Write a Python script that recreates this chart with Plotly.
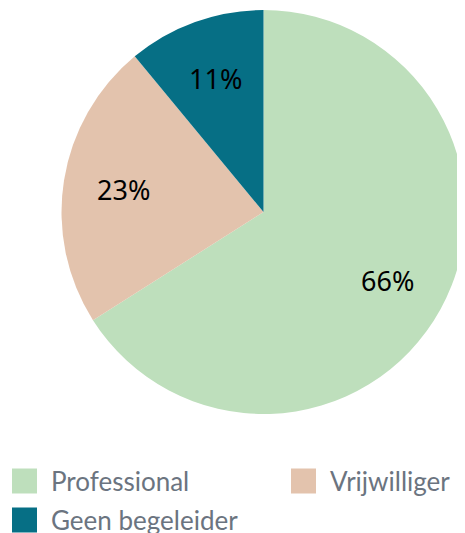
import math
import plotly.graph_objects as go

labels = ["Professional", "Vrijwilliger", "Geen begeleider"]
values = [66, 23, 11]
colors = ["#bedfbc", "#e3c3ad", "#066f85"]

W, H = 465, 533
# pie geometry in figure pixels
CX, CY, R = 255.5, 204.0, 202.0

fig = go.Figure()
fig.add_trace(go.Pie(
    labels=labels, values=values, sort=False, direction="clockwise", rotation=0,
    marker=dict(colors=colors, line=dict(width=0)),
    textinfo="none",
    domain=dict(x=[(CX - R) / W, min(1.0, (CX + R) / W)], y=[1 - (CY + R) / H, 1 - (CY - R) / H]),
    showlegend=False, hoverinfo="label+percent",
))

annotations, shapes = [], []
total = sum(values)
cum = 0
for v in values:
    mid = (cum + v / 2) / total * 2 * math.pi
    cum += v
    px = CX + 0.7 * R * math.sin(mid)
    py = CY - 0.7 * R * math.cos(mid)
    annotations.append(dict(xref="paper", yref="paper", x=px / W, y=1 - py / H,
                            xanchor="center", yanchor="middle", showarrow=False,
                            text=f"{round(v / total * 100)}%",
                            font=dict(family="Noto Sans", size=27, color="#000000")))

# custom legend
legend_pos = [(4, 473), (283, 473), (4, 512)]
for (x, y), lab, col in zip(legend_pos, labels, colors):
    shapes.append(dict(type="rect", xref="paper", yref="paper",
                       x0=x / W, x1=(x + 25) / W, y0=1 - (y + 12.5) / H, y1=1 - (y - 12.5) / H,
                       fillcolor=col, line=dict(width=0)))
    annotations.append(dict(xref="paper", yref="paper", x=(x + 37) / W, y=1 - y / H,
                            xanchor="left", yanchor="middle", showarrow=False, text=lab,
                            font=dict(family="Lato", size=26, color="#6b7480")))

fig.update_layout(width=W, height=H, margin=dict(l=0, r=0, t=0, b=0),
                  paper_bgcolor="white", plot_bgcolor="white",
                  shapes=shapes, annotations=annotations)
fig.write_html("out.html")
